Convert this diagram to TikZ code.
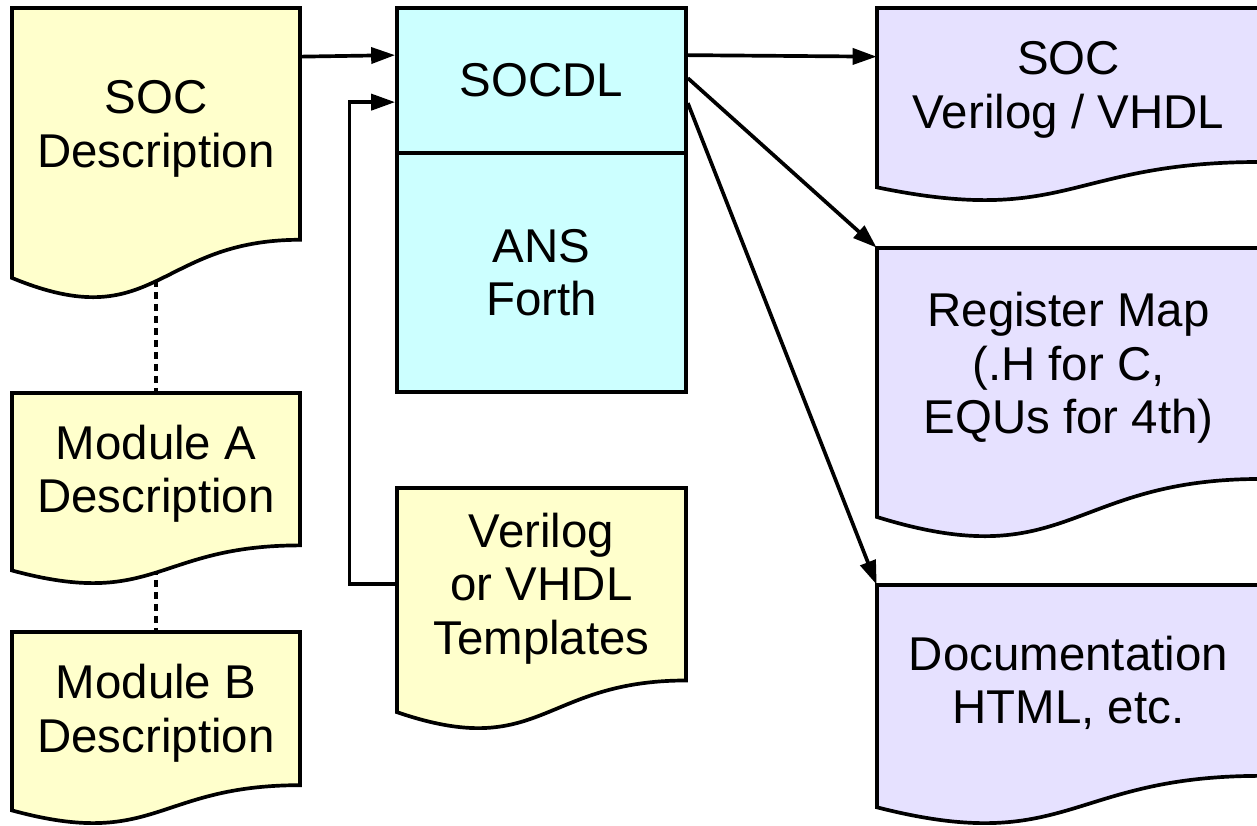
\documentclass[tikz,border=0pt]{standalone}
\usepackage{fontspec}
\setmainfont{Liberation Sans}
\usetikzlibrary{arrows.meta,backgrounds}

\definecolor{docyellow}{HTML}{FFFFCC}
\definecolor{forthcyan}{HTML}{CCFFFF}
\definecolor{outlilac}{HTML}{E6E1FF}

\tikzset{
  doc/.style={draw=black, line width=2.1pt},
  txt/.style={inner sep=0pt, align=center, font=\fontsize{27}{30.5}\selectfont},
  box/.style={txt, draw=black, line width=2.1pt},
  arr/.style={line width=2.1pt, -{Triangle[length=0.48cm,width=0.32cm]}},
  link/.style={line width=2.1pt, dash pattern=on 0.14cm off 0.1cm}
}

% document sheet with a wavy lower edge: name, left, top, width, height, fill, text
\newcommand{\docbox}[7]{%
  \draw[doc, fill=#6] (#2,#3) -- (#2+#4,#3) -- (#2+#4,#3+0.802*#5)
    .. controls (#2+0.5*#4,#3+0.802*#5) and (#2+0.5*#4,#3+1.14*#5) .. (#2,#3+0.934*#5) -- cycle;
  \node[txt, minimum width=#4*0.02cm, minimum height=0.802*#5*0.02cm] (#1)
    at (#2+0.5*#4,#3+0.401*#5) {\raisebox{-0.12cm}[\height][\depth]{\begin{tabular}{@{}c@{}}#7\end{tabular}}};
}

\begin{document}
\begin{tikzpicture}[x=0.02cm,y=-0.02cm]
  \useasboundingbox (0,0) rectangle (1257,825);

  % inputs
  \docbox{soc}{12}{8}{288}{289}{docyellow}{SOC\\Description}
  \docbox{moda}{12}{393}{288}{190}{docyellow}{Module A\\Description}
  \docbox{modb}{12}{632}{288}{191}{docyellow}{Module B\\Description}
  \docbox{tmpl}{397}{488}{289}{240}{docyellow}{Verilog\\or VHDL\\Templates}

  % the tool
  \node[box, fill=forthcyan, minimum width=289*0.02cm, minimum height=145*0.02cm] (socdl) at (541.5,80.5) {SOCDL};
  \node[box, fill=forthcyan, minimum width=289*0.02cm, minimum height=239*0.02cm] (ans) at (541.5,272.5) {ANS\\Forth};

  % outputs
  \docbox{ver}{877}{8}{383}{192}{outlilac}{SOC\\Verilog / VHDL}
  \docbox{reg}{877}{248}{383}{288}{outlilac}{Register Map\\(.H for C,\\EQUs for 4th)}
  \docbox{docs}{877}{585}{383}{238}{outlilac}{Documentation\\HTML, etc.}

  % module descriptions hang off the SOC description
  \begin{scope}[on background layer]
    \draw[link] (soc.center) -- (moda.center) -- (modb.center);
  \end{scope}

  \draw[arr] ([yshift=-0.98cm]soc.north east) -- ([yshift=-0.98cm]socdl.north west);
  \draw[arr] (tmpl.west) -- ++(-47,0) |- ([yshift=-1.92cm]socdl.north west);
  \draw[arr] ([yshift=-0.98cm]socdl.north east) -- ([yshift=-0.98cm]ver.north west);
  \draw[arr] ([yshift=-1.44cm]socdl.north east) -- (reg.north west);
  \draw[arr] ([yshift=-1.94cm]socdl.north east) -- (docs.north west);
\end{tikzpicture}
\end{document}
